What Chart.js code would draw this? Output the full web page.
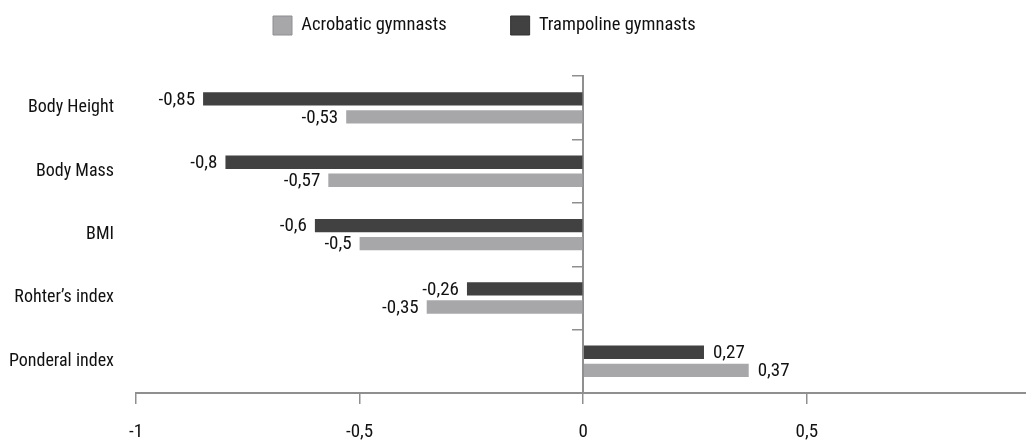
<!DOCTYPE html>
<html>
<head>
<meta charset="utf-8">
<script src="https://cdn.jsdelivr.net/npm/chart.js@4.4.1/dist/chart.umd.min.js"></script>
<style>
  html, body { margin: 0; padding: 0; background: #ffffff; }
  #wrap { width: 1026px; height: 442px; }
</style>
</head>
<body>
<div id="wrap"><canvas id="c" width="1026" height="442"></canvas></div>
<script>
const categories = ['Body Height', 'Body Mass', 'BMI', 'Rohter\u2019s index', 'Ponderal index'];
const seriesNames = ['Trampoline gymnasts', 'Acrobatic gymnasts'];
const trampolineValues = [-0.85, -0.8, -0.6, -0.26, 0.27];
const acrobaticValues = [-0.53, -0.57, -0.5, -0.35, 0.37];
const xTickValues = [-1, -0.5, 0, 0.5];

const FONT = '"Roboto Condensed", "DejaVu Sans Condensed", sans-serif';
const TEXT = '#111111';
const AXIS = '#8f8f8f';
const fmt = v => String(v).replace('.', ',');

const LEGEND_PAD = 64;

const valueLabels = {
  id: 'valueLabels',
  afterDatasetsDraw(chart) {
    const ctx = chart.ctx;
    ctx.save();
    ctx.font = '19px ' + FONT;
    ctx.fillStyle = TEXT;
    ctx.textBaseline = 'middle';
    chart.data.datasets.forEach((ds, i) => {
      const meta = chart.getDatasetMeta(i);
      meta.data.forEach((el, j) => {
        const v = ds.data[j];
        if (v < 0) {
          ctx.textAlign = 'right';
          ctx.fillText(fmt(v), el.x - 8, el.y + 1);
        } else {
          ctx.textAlign = 'left';
          ctx.fillText(fmt(v), el.x + 9, el.y + 1);
        }
      });
    });
    ctx.restore();
  }
};

const legendPlacer = {
  id: 'legendPlacer',
  afterLayout(chart) {
    if (chart.legend) {
      chart.legend.left = 273 - LEGEND_PAD;
    }
  }
};

new Chart(document.getElementById('c'), {
  type: 'bar',
  data: {
    labels: categories,
    datasets: [
      {
        label: seriesNames[0],
        data: trampolineValues,
        backgroundColor: '#414141',
        borderWidth: 0,
        categoryPercentage: 0.57,
        barPercentage: 0.74
      },
      {
        label: seriesNames[1],
        data: acrobaticValues,
        backgroundColor: '#a7a7aa',
        borderWidth: 0,
        categoryPercentage: 0.57,
        barPercentage: 0.74
      }
    ]
  },
  options: {
    indexAxis: 'y',
    responsive: false,
    animation: false,
    devicePixelRatio: 1,
    layout: { padding: { top: 16 - LEGEND_PAD, left: 0, right: 0, bottom: 0 } },
    plugins: {
      tooltip: { enabled: false },
      legend: {
        display: true,
        position: 'top',
        align: 'start',
        reverse: true,
        labels: {
          boxWidth: 19,
          boxHeight: 19,
          padding: LEGEND_PAD,
          color: TEXT,
          font: { family: FONT, size: 18.5 },
          generateLabels(chart) {
            const items = Chart.defaults.plugins.legend.labels.generateLabels(chart);
            return items.map(it => Object.assign(it, {
              lineWidth: 1,
              strokeStyle: it.datasetIndex === 1 ? '#8e8e91' : '#333333'
            }));
          }
        }
      },
      subtitle: {
        display: true,
        text: '',
        position: 'top',
        weight: 500,
        font: { size: 10, lineHeight: 1 },
        padding: { top: 0, bottom: 21.2 }
      }
    },
    scales: {
      y: {
        type: 'category',
        position: 'left',
        offset: true,
        grid: { display: false, drawTicks: false, offset: true },
        border: { display: false },
        ticks: {
          color: TEXT,
          padding: 22,
          font: { family: FONT, size: 18 }
        },
        afterFit(scale) { scale.width = 136; }
      },
      y2: {
        type: 'category',
        labels: categories,
        position: { x: 0 },
        offset: true,
        grid: {
          offset: true,
          drawOnChartArea: false,
          drawTicks: true,
          tickLength: 10,
          color: AXIS,
          lineWidth: 1.5
        },
        border: { display: true, color: AXIS, width: 2 },
        ticks: { display: false }
      },
      x: {
        type: 'linear',
        position: 'bottom',
        min: xTickValues[0],
        max: 0.99,
        afterBuildTicks(scale) {
          scale.ticks = xTickValues.map(v => ({ value: v }));
        },
        grid: {
          drawOnChartArea: false,
          drawTicks: true,
          tickLength: 11,
          color: AXIS,
          lineWidth: 1.5
        },
        border: { display: true, color: AXIS, width: 2 },
        ticks: {
          color: TEXT,
          padding: 17,
          maxRotation: 0,
          autoSkip: false,
          font: { family: FONT, size: 19 },
          callback: v => fmt(v)
        },
        afterFit(scale) { scale.height = 49; }
      }
    }
  },
  plugins: [valueLabels, legendPlacer]
});
</script>
</body>
</html>
